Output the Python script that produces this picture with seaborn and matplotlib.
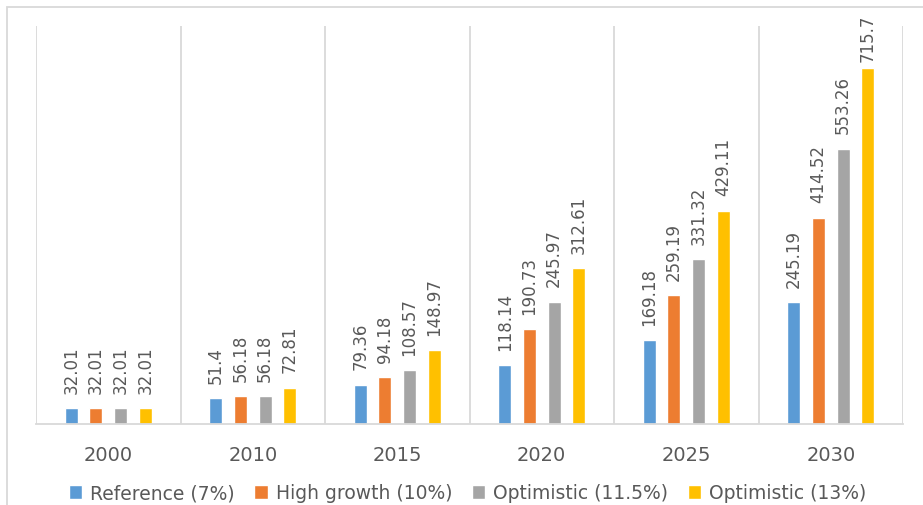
import matplotlib
matplotlib.use("Agg")
import matplotlib.pyplot as plt
from matplotlib.patches import Rectangle
import seaborn as sns
import pandas as pd

years = ["2000", "2010", "2015", "2020", "2025", "2030"]
scenarios = ["Reference (7%)", "High growth (10%)", "Optimistic (11.5%)", "Optimistic (13%)"]
reference = [32.01, 51.4, 79.36, 118.14, 169.18, 245.19]
high_growth = [32.01, 56.18, 94.18, 190.73, 259.19, 414.52]
optimistic_115 = [32.01, 56.18, 108.57, 245.97, 331.32, 553.26]
optimistic_13 = [32.01, 72.81, 148.97, 312.61, 429.11, 715.7]
colors = ["#5B9BD5", "#ED7D31", "#A5A5A5", "#FFC000"]

series = [reference, high_growth, optimistic_115, optimistic_13]
rows = []
for name, vals in zip(scenarios, series):
    for y, v in zip(years, vals):
        rows.append({"year": y, "scenario": name, "value": v})
df = pd.DataFrame(rows)

sns.set_style("white")
plt.rcParams["font.family"] = ["DejaVu Sans"]
text_color = "#595959"
grid_color = "#D9D9D9"

W, H = 923, 506
fig = plt.figure(figsize=(W / 100, H / 100), dpi=100)
ax = fig.add_axes([36 / W, 1 - 425 / H, (903 - 36) / W, (425 - 27) / H])

sns.barplot(data=df, x="year", y="value", hue="scenario", order=years,
            hue_order=scenarios, palette=colors, width=0.683, gap=0.47,
            saturation=1, ax=ax, legend=True)

ax.set_ylim(0, 800)
ax.set_xlim(-0.5, len(years) - 0.5)
ax.set_xlabel("")
ax.set_ylabel("")
ax.set_yticks([])

# category separators
for b in range(len(years) + 1):
    ax.axvline(b - 0.5, color=grid_color, lw=1.3, zorder=0)
for s in ["top", "left", "right"]:
    ax.spines[s].set_visible(False)
ax.spines["bottom"].set_color(grid_color)
ax.spines["bottom"].set_linewidth(1.3)

ax.tick_params(axis="x", length=0, pad=15, labelsize=14, colors=text_color)

for cont, vals in zip(ax.containers, series):
    labels = [f"{v:g}" for v in vals]
    texts = ax.bar_label(cont, labels=labels, rotation=90, padding=11,
                         fontsize=12, color=text_color)
    for t, v in zip(texts, vals):
        if v > 700:
            t.xyann = (0, 5)

# legend along the bottom
handles, lbls = ax.get_legend_handles_labels()
ax.get_legend().remove()
leg = fig.legend(handles, lbls, loc="center", bbox_to_anchor=(467.5 / W, 1 - 494 / H),
                 ncol=4, frameon=False, fontsize=13.5, handlelength=0.72,
                 handleheight=0.72, handletextpad=0.42, columnspacing=1.05,
                 borderaxespad=0, borderpad=0)
for t in leg.get_texts():
    t.set_color(text_color)

# outer chart frame
fig.patches.append(Rectangle((7 / W, -0.1), 1.2, 1 - 8 / H + 0.1, transform=fig.transFigure,
                             fill=False, edgecolor=grid_color, lw=1.3, zorder=0))

fig.savefig("out.png", dpi=100)
